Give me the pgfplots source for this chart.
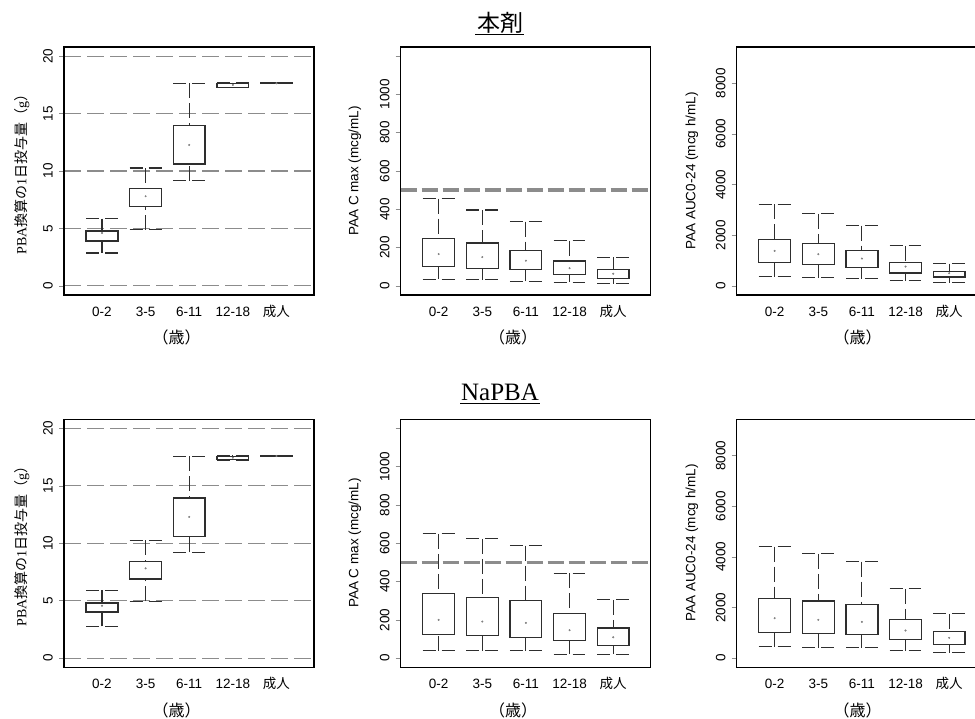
\documentclass[border=0pt]{standalone}
\usepackage{pgfplots}
\pgfplotsset{compat=1.18}
\usepgfplotslibrary{statistics}
\usepackage{fontspec}
\setmainfont{Liberation Serif}
\setsansfont{Liberation Sans}
\newfontfamily\cjk{Noto Sans CJK JP}
\definecolor{gridgray}{HTML}{8C8C8C}
\definecolor{boxcol}{HTML}{2E2E2E}
\tikzset{
  wh/.style={boxcol, line width=1.1pt, dash pattern=on 15pt off 5pt},
  cp/.style={boxcol, line width=1.1pt, dash pattern=on 13pt off 6pt},
}
\pgfplotsset{
  panel/.style={
    scale only axis, width=250pt, height=248pt, anchor=south west,
    xmin=0.13, xmax=5.86, xtick={1,2,3,4,5},
    xticklabels={0-2,3-5,6-11,12-18,{\cjk 成人}},
    xtick style={draw=none},
    ytick pos=left, ytick align=outside, major tick length=5pt,
    ytick style={gridgray, line width=0.6pt},
    axis line style={black, line width=1.2pt},
    ticklabel style={font=\sffamily\fontsize{13.5}{14}\selectfont},
    /pgf/number format/assume math mode=true,
    xticklabel style={anchor=base, inner sep=0pt, yshift=-21.5pt},
    yticklabel style={rotate=90, anchor=south, inner sep=0pt},
    yticklabel shift=6pt,
    boxplot/draw direction=y,
    boxplot/box extend=0.73,
    boxplot/whisker extend=0.73,
    boxplot/draw/median/.code={},
    boxplot/draw/lower whisker/.code={%
      \draw[wh] (boxplot cs:\pgfplotsboxplotvalue{lower whisker}) -- (boxplot cs:\pgfplotsboxplotvalue{lower quartile});
      \draw[cp] (boxplot whisker cs:\pgfplotsboxplotvalue{lower whisker},0) -- (boxplot whisker cs:\pgfplotsboxplotvalue{lower whisker},1);
    },
    boxplot/draw/upper whisker/.code={%
      \draw[wh] (boxplot cs:\pgfplotsboxplotvalue{upper whisker}) -- (boxplot cs:\pgfplotsboxplotvalue{upper quartile});
      \draw[cp] (boxplot whisker cs:\pgfplotsboxplotvalue{upper whisker},0) -- (boxplot whisker cs:\pgfplotsboxplotvalue{upper whisker},1);
    },
    boxplot/every box/.style={boxcol, line width=1.3pt},
  },
  dose/.style={panel, ymin=-0.8, ymax=20.8, ytick={0,5,10,15,20}, yticklabels={0,5,10,15,20},
    ymajorgrids, major grid style={gridgray, line width=1.2pt, dash pattern=on 17pt off 6pt}},
  cmax/.style={panel, ymin=-48, ymax=1248, ytick={0,200,400,600,800,1000,1200}, yticklabels={0,200,400,600,800,1000,{}}},
  auc/.style={panel, ymin=-360, ymax=9430, ytick={0,2000,4000,6000,8000}, yticklabels={0,2000,4000,6000,8000}},
  mean/.style={only marks, mark=*, mark size=0.8pt, color=gray},
  bxp/.style={boxcol, solid},
  refl/.style={gridgray, line width=3.5pt, dash pattern=on 16pt off 5pt},
}
\begin{document}
\begin{tikzpicture}
\fontsize{13.5}{15}\selectfont
% ---------- Row 1 : 本剤 ----------
\begin{axis}[dose, at={(64pt,423pt)}]
\addplot[bxp, boxplot prepared={draw position=1, lower whisker=2.86, lower quartile=3.9, median=3.9, upper quartile=4.78, upper whisker=5.86}] coordinates {};
\addplot[bxp, boxplot prepared={draw position=2, lower whisker=4.9, lower quartile=6.88, median=6.88, upper quartile=8.45, upper whisker=10.26}] coordinates {};
\addplot[bxp, boxplot prepared={draw position=3, lower whisker=9.15, lower quartile=10.61, median=10.61, upper quartile=13.94, upper whisker=17.64}] coordinates {};
\addplot[bxp, boxplot prepared={draw position=4, lower whisker=17.25, lower quartile=17.3, median=17.3, upper quartile=17.64, upper whisker=17.7}] coordinates {};
\addplot[bxp, boxplot prepared={draw position=5, lower whisker=17.62, lower quartile=17.62, median=17.62, upper quartile=17.66, upper whisker=17.66}] coordinates {};
\addplot[mean] coordinates {(1,4.6) (2,7.8) (3,12.27) (4,17.5) (5,17.64)};
\end{axis}
\begin{axis}[cmax, at={(400.7pt,423pt)}]
\addplot[refl] coordinates {(0.13,500) (5.86,500)};
\addplot[bxp, boxplot prepared={draw position=1, lower whisker=35, lower quartile=101, median=101, upper quartile=246, upper whisker=455}] coordinates {};
\addplot[bxp, boxplot prepared={draw position=2, lower whisker=31, lower quartile=92, median=92, upper quartile=223, upper whisker=396}] coordinates {};
\addplot[bxp, boxplot prepared={draw position=3, lower whisker=23, lower quartile=84, median=84, upper quartile=185, upper whisker=335}] coordinates {};
\addplot[bxp, boxplot prepared={draw position=4, lower whisker=19, lower quartile=58, median=58, upper quartile=129, upper whisker=236}] coordinates {};
\addplot[bxp, boxplot prepared={draw position=5, lower whisker=12, lower quartile=38, median=38, upper quartile=84, upper whisker=150}] coordinates {};
\addplot[mean] coordinates {(1,166) (2,150) (3,131) (4,92) (5,63)};
\end{axis}
\begin{axis}[auc, at={(736.7pt,423pt)}]
\addplot[bxp, boxplot prepared={draw position=1, lower whisker=355, lower quartile=934, median=934, upper quartile=1842, upper whisker=3224}] coordinates {};
\addplot[bxp, boxplot prepared={draw position=2, lower whisker=316, lower quartile=855, median=855, upper quartile=1671, upper whisker=2842}] coordinates {};
\addplot[bxp, boxplot prepared={draw position=3, lower whisker=276, lower quartile=724, median=724, upper quartile=1395, upper whisker=2382}] coordinates {};
\addplot[bxp, boxplot prepared={draw position=4, lower whisker=211, lower quartile=513, median=513, upper quartile=934, upper whisker=1579}] coordinates {};
\addplot[bxp, boxplot prepared={draw position=5, lower whisker=132, lower quartile=355, median=355, upper quartile=579, upper whisker=882}] coordinates {};
\addplot[mean] coordinates {(1,1382) (2,1250) (3,1079) (4,763) (5,500)};
\end{axis}
% ---------- Row 2 : NaPBA ----------
\begin{axis}[dose, at={(64pt,50.7pt)}]
\addplot[bxp, boxplot prepared={draw position=1, lower whisker=2.76, lower quartile=4.01, median=4.01, upper quartile=4.8, upper whisker=5.9}] coordinates {};
\addplot[bxp, boxplot prepared={draw position=2, lower whisker=4.94, lower quartile=6.89, median=6.89, upper quartile=8.4, upper whisker=10.26}] coordinates {};
\addplot[bxp, boxplot prepared={draw position=3, lower whisker=9.22, lower quartile=10.58, median=10.58, upper quartile=13.95, upper whisker=17.59}] coordinates {};
\addplot[bxp, boxplot prepared={draw position=4, lower whisker=17.24, lower quartile=17.3, median=17.3, upper quartile=17.59, upper whisker=17.68}] coordinates {};
\addplot[bxp, boxplot prepared={draw position=5, lower whisker=17.57, lower quartile=17.57, median=17.57, upper quartile=17.61, upper whisker=17.61}] coordinates {};
\addplot[mean] coordinates {(1,4.56) (2,7.82) (3,12.3) (4,17.45) (5,17.6)};
\end{axis}
\begin{axis}[cmax, at={(400.7pt,50.7pt)}]
\addplot[refl] coordinates {(0.13,500) (5.86,500)};
\addplot[bxp, boxplot prepared={draw position=1, lower whisker=39, lower quartile=123, median=123, upper quartile=337, upper whisker=649}] coordinates {};
\addplot[bxp, boxplot prepared={draw position=2, lower whisker=39, lower quartile=119, median=119, upper quartile=316, upper whisker=623}] coordinates {};
\addplot[bxp, boxplot prepared={draw position=3, lower whisker=39, lower quartile=109, median=109, upper quartile=302, upper whisker=588}] coordinates {};
\addplot[bxp, boxplot prepared={draw position=4, lower whisker=21, lower quartile=91, median=91, upper quartile=232, upper whisker=444}] coordinates {};
\addplot[bxp, boxplot prepared={draw position=5, lower whisker=21, lower quartile=67, median=67, upper quartile=158, upper whisker=305}] coordinates {};
\addplot[mean] coordinates {(1,200) (2,191) (3,184) (4,146) (5,109)};
\end{axis}
\begin{axis}[auc, at={(736.7pt,50.7pt)}]
\addplot[bxp, boxplot prepared={draw position=1, lower whisker=460, lower quartile=1013, median=1013, upper quartile=2368, upper whisker=4408}] coordinates {};
\addplot[bxp, boxplot prepared={draw position=2, lower whisker=421, lower quartile=974, median=974, upper quartile=2263, upper whisker=4118}] coordinates {};
\addplot[bxp, boxplot prepared={draw position=3, lower whisker=421, lower quartile=921, median=921, upper quartile=2132, upper whisker=3816}] coordinates {};
\addplot[bxp, boxplot prepared={draw position=4, lower whisker=303, lower quartile=750, median=750, upper quartile=1539, upper whisker=2737}] coordinates {};
\addplot[bxp, boxplot prepared={draw position=5, lower whisker=224, lower quartile=553, median=553, upper quartile=1053, upper whisker=1750}] coordinates {};
\addplot[mean] coordinates {(1,1579) (2,1513) (3,1434) (4,1092) (5,803)};
\end{axis}
% ---------- titles ----------
\node[inner sep=0pt, anchor=base, font=\cjk\fontsize{23}{24}\selectfont] at (500pt,686pt) {本剤};
\draw[line width=1pt] (475pt,683pt) -- (524pt,683pt);
\node[inner sep=0pt, anchor=base, font=\rmfamily\fontsize{25}{26}\selectfont] at (500pt,317pt) {NaPBA};
\draw[line width=1pt] (460pt,314pt) -- (540pt,314pt);
% ---------- y labels ----------
\foreach \yc in {175pt,547pt} {
  \node[rotate=90, inner sep=0pt, font=\fontsize{14}{15}\selectfont] at (22pt,\yc) {PBA{\cjk 換算の}1{\cjk 日投与量（}g{\cjk ）}};
  \node[rotate=90, inner sep=0pt, font=\sffamily\fontsize{13.5}{15}\selectfont] at (355pt,\yc) {PAA C max (mcg/mL)};
  \node[rotate=90, inner sep=0pt, font=\sffamily\fontsize{13.5}{15}\selectfont] at (692pt,\yc) {PAA AUC0-24 (mcg h/mL)};
}
% ---------- x labels ----------
\foreach \yc in {380.3pt,8pt} {
  \node[inner sep=0pt, font=\cjk\fontsize{16}{17}\selectfont] at (176.5pt,\yc) {（歳）};
  \node[inner sep=0pt, font=\cjk\fontsize{16}{17}\selectfont] at (513pt,\yc) {（歳）};
  \node[inner sep=0pt, font=\cjk\fontsize{16}{17}\selectfont] at (857.5pt,\yc) {（歳）};
}
\pgfresetboundingbox
\path[use as bounding box] (0pt,0pt) rectangle (975pt,718pt);
\end{tikzpicture}
\end{document}
